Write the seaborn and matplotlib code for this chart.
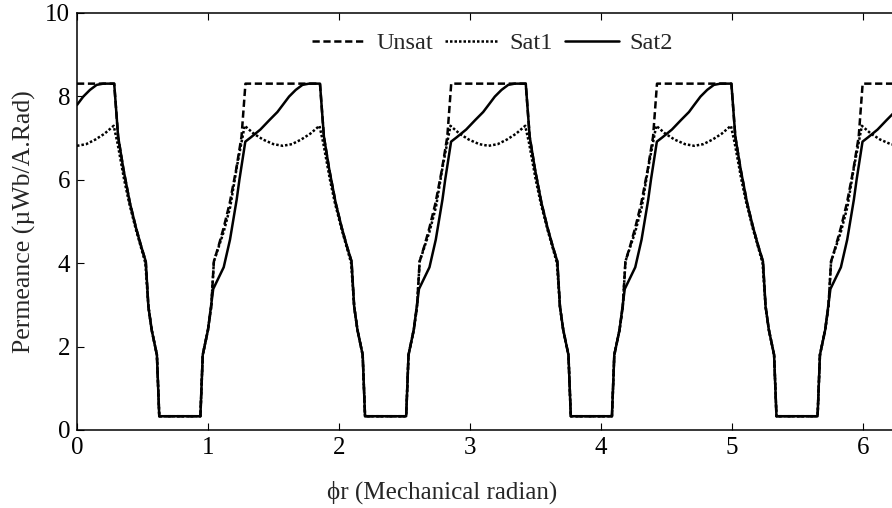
import matplotlib
matplotlib.use("Agg")
import matplotlib.pyplot as plt
import seaborn as sns

# Rotor angle (mechanical radian) and permeance (uWb/A.Rad) for each model
unsat_x = [0.000, 0.284, 0.314, 0.355, 0.404, 0.450, 0.490, 0.525, 0.545, 0.570, 0.610, 0.628,
           0.942, 0.960, 1.000, 1.025, 1.045, 1.080, 1.120, 1.166, 1.215, 1.256, 1.286,
           1.571, 1.855, 1.885, 1.926, 1.975, 2.021, 2.061, 2.096, 2.116, 2.141, 2.181, 2.199,
           2.513, 2.531, 2.571, 2.596, 2.616, 2.651, 2.691, 2.737, 2.786, 2.827, 2.857,
           3.142, 3.426, 3.456, 3.497, 3.546, 3.592, 3.632, 3.667, 3.687, 3.712, 3.752, 3.770,
           4.084, 4.102, 4.142, 4.167, 4.187, 4.222, 4.262, 4.308, 4.357, 4.398, 4.428,
           4.712, 4.996, 5.026, 5.067, 5.116, 5.162, 5.202, 5.237, 5.257, 5.282, 5.322, 5.340,
           5.654, 5.672, 5.712, 5.737, 5.757, 5.792, 5.832, 5.878, 5.927, 5.968, 5.998, 6.283]
unsat_y = [8.30, 8.30, 7.03, 6.24, 5.44, 4.85, 4.40, 4.04, 2.96, 2.40, 1.80, 0.33,
           0.33, 1.80, 2.40, 2.96, 4.04, 4.40, 4.85, 5.44, 6.24, 7.03, 8.30,
           8.30, 8.30, 7.03, 6.24, 5.44, 4.85, 4.40, 4.04, 2.96, 2.40, 1.80, 0.33,
           0.33, 1.80, 2.40, 2.96, 4.04, 4.40, 4.85, 5.44, 6.24, 7.03, 8.30,
           8.30, 8.30, 7.03, 6.24, 5.44, 4.85, 4.40, 4.04, 2.96, 2.40, 1.80, 0.33,
           0.33, 1.80, 2.40, 2.96, 4.04, 4.40, 4.85, 5.44, 6.24, 7.03, 8.30,
           8.30, 8.30, 7.03, 6.24, 5.44, 4.85, 4.40, 4.04, 2.96, 2.40, 1.80, 0.33,
           0.33, 1.80, 2.40, 2.96, 4.04, 4.40, 4.85, 5.44, 6.24, 7.03, 8.30, 8.30]

sat1_x = [0.000, 0.070, 0.140, 0.210, 0.280, 0.309, 0.360, 0.398, 0.450, 0.490, 0.522, 0.545,
          0.570, 0.610, 0.628, 0.942, 0.960, 1.000, 1.025, 1.045, 1.120, 1.170, 1.220, 1.280,
          1.350, 1.420, 1.500,
          1.571, 1.641, 1.711, 1.781, 1.851, 1.880, 1.931, 1.969, 2.021, 2.061, 2.093, 2.116,
          2.141, 2.181, 2.199, 2.513, 2.531, 2.571, 2.596, 2.616, 2.691, 2.741, 2.791, 2.851,
          2.921, 2.991, 3.071,
          3.142, 3.212, 3.282, 3.352, 3.422, 3.451, 3.502, 3.540, 3.592, 3.632, 3.664, 3.687,
          3.712, 3.752, 3.770, 4.084, 4.102, 4.142, 4.167, 4.187, 4.262, 4.312, 4.362, 4.422,
          4.492, 4.562, 4.642,
          4.712, 4.782, 4.852, 4.922, 4.992, 5.021, 5.072, 5.110, 5.162, 5.202, 5.234, 5.257,
          5.282, 5.322, 5.340, 5.654, 5.672, 5.712, 5.737, 5.757, 5.832, 5.882, 5.932, 5.992,
          6.062, 6.132, 6.212, 6.283]
sat1_y = [6.81, 6.85, 6.96, 7.10, 7.29, 6.88, 6.00, 5.44, 4.80, 4.36, 4.00, 2.96,
          2.40, 1.80, 0.33, 0.33, 1.80, 2.40, 2.96, 4.04, 4.75, 5.35, 6.30, 7.29,
          7.10, 6.96, 6.85,
          6.81, 6.85, 6.96, 7.10, 7.29, 6.88, 6.00, 5.44, 4.80, 4.36, 4.00, 2.96,
          2.40, 1.80, 0.33, 0.33, 1.80, 2.40, 2.96, 4.04, 4.75, 5.35, 6.30, 7.29,
          7.10, 6.96, 6.85,
          6.81, 6.85, 6.96, 7.10, 7.29, 6.88, 6.00, 5.44, 4.80, 4.36, 4.00, 2.96,
          2.40, 1.80, 0.33, 0.33, 1.80, 2.40, 2.96, 4.04, 4.75, 5.35, 6.30, 7.29,
          7.10, 6.96, 6.85,
          6.81, 6.85, 6.96, 7.10, 7.29, 6.88, 6.00, 5.44, 4.80, 4.36, 4.00, 2.96,
          2.40, 1.80, 0.33, 0.33, 1.80, 2.40, 2.96, 4.04, 4.75, 5.35, 6.30, 7.29,
          7.10, 6.96, 6.85, 6.81]

sat2_x = [0.000, 0.048, 0.099, 0.150, 0.200, 0.284, 0.314, 0.355, 0.404, 0.450, 0.490, 0.525,
          0.545, 0.570, 0.610, 0.628, 0.942, 0.960, 1.000, 1.040, 1.120, 1.168, 1.219, 1.240,
          1.285, 1.330, 1.400, 1.470, 1.530,
          1.571, 1.619, 1.670, 1.721, 1.771, 1.855, 1.885, 1.926, 1.975, 2.021, 2.061, 2.096,
          2.116, 2.141, 2.181, 2.199, 2.513, 2.531, 2.571, 2.611, 2.691, 2.739, 2.790, 2.811,
          2.856, 2.901, 2.971, 3.041, 3.101,
          3.142, 3.190, 3.241, 3.292, 3.342, 3.426, 3.456, 3.497, 3.546, 3.592, 3.632, 3.667,
          3.687, 3.712, 3.752, 3.770, 4.084, 4.102, 4.142, 4.182, 4.262, 4.310, 4.361, 4.382,
          4.427, 4.472, 4.542, 4.612, 4.672,
          4.712, 4.760, 4.811, 4.862, 4.912, 4.996, 5.026, 5.067, 5.116, 5.162, 5.202, 5.237,
          5.257, 5.282, 5.322, 5.340, 5.654, 5.672, 5.712, 5.752, 5.832, 5.880, 5.931, 5.952,
          5.997, 6.042, 6.112, 6.182, 6.242, 6.283]
sat2_y = [7.79, 7.99, 8.15, 8.27, 8.30, 8.30, 7.03, 6.24, 5.44, 4.85, 4.40, 4.04,
          2.96, 2.40, 1.80, 0.33, 0.33, 1.80, 2.40, 3.38, 3.90, 4.56, 5.52, 6.00,
          6.91, 7.02, 7.20, 7.43, 7.62,
          7.79, 7.99, 8.15, 8.27, 8.30, 8.30, 7.03, 6.24, 5.44, 4.85, 4.40, 4.04,
          2.96, 2.40, 1.80, 0.33, 0.33, 1.80, 2.40, 3.38, 3.90, 4.56, 5.52, 6.00,
          6.91, 7.02, 7.20, 7.43, 7.62,
          7.79, 7.99, 8.15, 8.27, 8.30, 8.30, 7.03, 6.24, 5.44, 4.85, 4.40, 4.04,
          2.96, 2.40, 1.80, 0.33, 0.33, 1.80, 2.40, 3.38, 3.90, 4.56, 5.52, 6.00,
          6.91, 7.02, 7.20, 7.43, 7.62,
          7.79, 7.99, 8.15, 8.27, 8.30, 8.30, 7.03, 6.24, 5.44, 4.85, 4.40, 4.04,
          2.96, 2.40, 1.80, 0.33, 0.33, 1.80, 2.40, 3.38, 3.90, 4.56, 5.52, 6.00,
          6.91, 7.02, 7.20, 7.43, 7.62, 7.79]

series_names = ["Unsat", "Sat1", "Sat2"]
x_ticks = [0, 1, 2, 3, 4, 5, 6]
y_ticks = [0, 2, 4, 6, 8, 10]

sns.set_style("ticks")
plt.rcParams["font.family"] = ["Liberation Serif", "DejaVu Serif"]

fig = plt.figure(figsize=(8.92, 5.08), dpi=100)
ax = fig.add_axes([77 / 892, 78 / 508, 823 / 892, 417.3 / 508])

styles = [(0, (2.9, 1.45)), (0, (1.0, 0.8)), "-"]
for name, xs, ys, ls in zip(series_names,
                            [unsat_x, sat1_x, sat2_x],
                            [unsat_y, sat1_y, sat2_y],
                            styles):
    sns.lineplot(x=xs, y=ys, ax=ax, color="black", linewidth=1.8,
                 linestyle=ls, label=name, sort=False, estimator=None)

ax.set_xlim(0, 6.2832)
ax.set_ylim(0, 10)
ax.set_xticks(x_ticks)
ax.set_yticks(y_ticks)
ax.tick_params(direction="in", length=5, width=0.8, top=True, right=True,
               labelsize=18, colors="black", pad=5)
for sp in ax.spines.values():
    sp.set_visible(True)
    sp.set_color("black")
    sp.set_linewidth(1.1)

ax.set_xlabel("\u03d5r (Mechanical radian)", fontsize=18)
ax.set_ylabel("Permeance (\u00b5Wb/A.Rad)", fontsize=18.5)
ax.xaxis.set_label_coords(0.4435, -0.122)
ax.yaxis.set_label_coords(-0.050, 0.5)

ax.legend(loc="center", bbox_to_anchor=(0.505, 0.927), ncol=3, frameon=False,
          fontsize=17.5, handlelength=2.2, handletextpad=0.45, columnspacing=0.5,
          borderaxespad=0)

fig.savefig("out.png", dpi=100)
